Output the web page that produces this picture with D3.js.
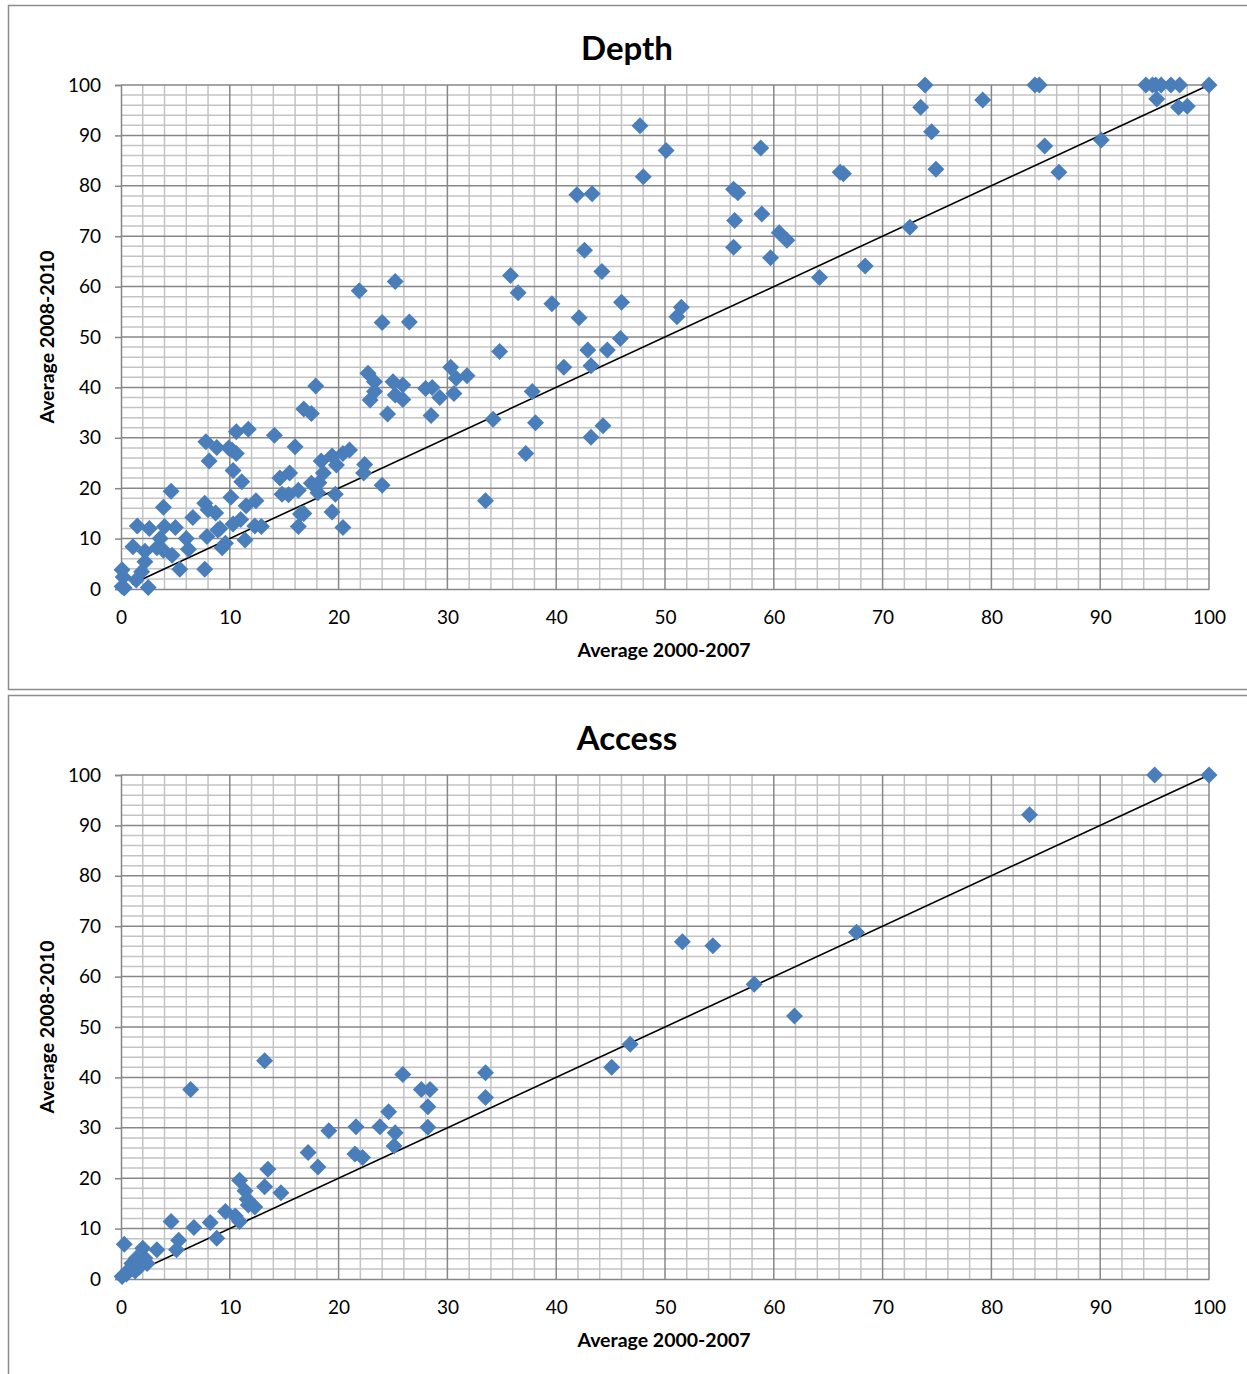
<!DOCTYPE html>
<html>
<head>
<meta charset="utf-8">
<script src="https://cdn.jsdelivr.net/npm/d3@7"></script>
<style>
  body { margin: 0; background: #fff; }
  svg { display: block; }
  text { font-family: Lato, "Open Sans", sans-serif; fill: #000; }
</style>
</head>
<body>
<svg id="chart" width="1247" height="1374"></svg>
<script>
// values
var axisTicks = [0, 10, 20, 30, 40, 50, 60, 70, 80, 90, 100];
var xTitle = "Average 2000-2007";
var yTitle = "Average 2008-2010";

var depthX = [
  73.9, 84.0, 84.4, 94.2, 94.8, 95.1, 95.6, 96.5, 97.3, 100,
  73.5, 74.5, 79.2, 95.2, 97.2, 98.0, 84.9, 86.2, 74.9, 72.5, 68.4, 90.1, 66.1, 66.4,
  47.7, 50.1, 48.0, 41.9, 43.3, 56.4, 58.9, 60.5, 61.2, 56.3, 59.7, 64.2, 56.3, 56.7, 58.8,
  35.8, 36.5, 39.6, 42.6, 44.2, 42.1, 46.0, 51.5, 51.1,
  34.8, 42.9, 44.7, 45.9, 40.7, 43.2, 37.8, 38.1, 44.3, 43.2, 37.2, 33.5, 34.2,
  21.9, 25.2, 24.0, 26.5,
  30.3, 31.8, 30.8, 30.6, 25.0, 25.9, 23.3, 22.7, 23.3, 22.9, 25.2, 25.9, 28.0, 28.6, 29.3, 24.5, 28.5, 24.0,
  17.9, 16.8, 17.5,
  7.8, 8.8, 9.9, 10.6, 11.7, 10.6, 14.1, 16.0, 8.1, 10.3, 11.1, 4.6, 3.9, 10.1, 7.7, 8.0, 8.7, 6.6, 11.5, 12.4,
  1.5, 2.6, 4.0, 5.0, 3.6, 6.0, 1.1, 2.2, 3.3, 3.9, 4.7, 2.2, 6.2, 5.4, 7.7, 7.9, 9.1, 9.6, 9.3, 8.9, 10.3, 11.0, 11.4, 12.3, 12.9,
  0.1, 0.2, 0.1, 0.3, 1.4, 2.5, 1.9,
  14.6, 15.5, 14.8, 15.4, 16.3, 17.5, 18.2, 18.6, 18.4, 19.4, 20.4, 21.0, 19.8, 18.1, 19.7, 19.4, 20.4, 16.5, 16.8, 16.3, 22.4, 22.3, 10.2
];
var depthY = [
  100, 100, 100, 100, 100, 100, 100, 100, 100, 100,
  95.6, 90.7, 97.0, 97.2, 95.6, 95.8, 87.9, 82.7, 83.3, 71.8, 64.1, 89.1, 82.7, 82.4,
  91.9, 87.0, 81.8, 78.2, 78.4, 73.1, 74.4, 70.7, 69.2, 67.8, 65.7, 61.8, 79.3, 78.6, 87.5,
  62.2, 58.8, 56.6, 67.2, 63.0, 53.8, 56.9, 55.9, 54.0,
  47.1, 47.4, 47.4, 49.7, 44.0, 44.3, 39.2, 33.0, 32.4, 30.1, 26.9, 17.5, 33.7,
  59.2, 61.0, 52.9, 53.0,
  44.0, 42.3, 41.8, 38.8, 41.1, 40.5, 41.1, 42.8, 39.2, 37.5, 38.5, 37.6, 39.8, 40.0, 38.0, 34.7, 34.4, 20.6,
  40.3, 35.7, 34.8,
  29.2, 28.1, 28.0, 31.2, 31.7, 26.9, 30.5, 28.2, 25.4, 23.5, 21.3, 19.4, 16.2, 18.2, 17.0, 15.7, 15.1, 14.2, 16.5, 17.5,
  12.5, 12.0, 12.4, 12.2, 10.0, 10.0, 8.4, 7.5, 8.2, 7.7, 6.7, 5.4, 7.9, 3.9, 3.9, 10.4, 12.0, 9.1, 8.2, 11.7, 12.9, 13.8, 9.7, 12.5, 12.4,
  3.8, 2.4, 0.5, 0.2, 1.8, 0.3, 3.4,
  22.0, 23.0, 18.8, 18.7, 19.6, 21.0, 21.1, 23.0, 25.4, 26.4, 26.9, 27.6, 24.6, 19.1, 18.8, 15.3, 12.2, 14.9, 15.0, 12.4, 24.7, 23.0, 27.6
];

var accessX = [
  100, 95.0, 83.5, 67.6, 51.6, 54.4, 58.2, 61.9, 46.8, 45.1,
  13.2, 6.4, 25.9, 27.6, 28.4, 28.2, 28.2, 33.5, 33.5, 24.6, 23.8, 25.2, 25.1, 21.6, 19.1,
  17.2, 18.1, 21.5, 22.2, 13.5, 13.2, 14.7, 10.9, 11.4, 11.6, 11.7, 12.3, 9.6, 10.5, 10.9,
  8.2, 8.8, 6.7, 4.6, 5.3, 5.1, 3.3, 0.3, 2.0, 2.2, 1.4, 1.0, 2.4, 1.7, 0.7, 1.3, 0.1, 0.5, 1.1
];
var accessY = [
  100, 100, 92.1, 68.8, 66.9, 66.1, 58.5, 52.2, 46.6, 42.0,
  43.3, 37.6, 40.6, 37.6, 37.6, 34.2, 30.1, 40.9, 36.0, 33.2, 30.2, 29.0, 26.4, 30.2, 29.4,
  25.1, 22.2, 24.8, 24.1, 21.8, 18.3, 17.1, 19.6, 17.5, 15.8, 14.7, 14.3, 13.4, 12.5, 11.4,
  11.2, 8.1, 10.2, 11.4, 7.7, 5.8, 5.8, 6.9, 6.1, 4.1, 4.1, 3.1, 3.1, 2.4, 1.8, 1.6, 0.5, 1.0, 2.4
];

// reference line y = x
var diagX = [1, 100];
var diagY = [1, 100];

var svg = d3.select("#chart");

function scatterPanel(g, title, xs, ys, top) {
  var left = 121, right = 1209,
      plotTop = top + 80, plotBottom = top + 584;

  var x = d3.scaleLinear().domain([0, 100]).range([left, right]);
  var y = d3.scaleLinear().domain([0, 100]).range([plotBottom, plotTop]);

  // panel frame
  g.append("rect")
    .attr("x", 8.5).attr("y", top + 0.5)
    .attr("width", 1260).attr("height", 684)
    .attr("fill", "#fff")
    .attr("stroke", "#8c8c8c")
    .attr("stroke-width", 1.5);

  g.append("text")
    .attr("x", 627).attr("y", top + 55)
    .attr("text-anchor", "middle")
    .attr("font-size", 33)
    .attr("font-weight", "bold")
    .text(title);

  // minor gridlines every 2
  var minor = d3.range(2, 100, 2).filter(function (d) { return d % 10 !== 0; });
  var grid = g.append("g");
  grid.selectAll(".vminor").data(minor).enter().append("line")
    .attr("x1", x).attr("x2", x)
    .attr("y1", plotTop).attr("y2", plotBottom)
    .attr("stroke", "#c3c3c3").attr("stroke-width", 1.5);
  grid.selectAll(".hminor").data(minor).enter().append("line")
    .attr("y1", y).attr("y2", y)
    .attr("x1", left).attr("x2", right)
    .attr("stroke", "#c3c3c3").attr("stroke-width", 1.5);

  // major gridlines
  grid.selectAll(".vmajor").data(axisTicks.slice(1)).enter().append("line")
    .attr("x1", x).attr("x2", x)
    .attr("y1", plotTop).attr("y2", plotBottom)
    .attr("stroke", "#878787").attr("stroke-width", 1.5);
  grid.selectAll(".hmajor").data(axisTicks.slice(1)).enter().append("line")
    .attr("y1", y).attr("y2", y)
    .attr("x1", left).attr("x2", right)
    .attr("stroke", "#878787").attr("stroke-width", 1.5);

  // axes
  var yAxis = g.append("g")
    .attr("transform", "translate(" + left + ",0)")
    .call(d3.axisLeft(y).tickValues(axisTicks).tickSize(6).tickPadding(14));
  var xAxis = g.append("g")
    .attr("transform", "translate(0," + plotBottom + ")")
    .call(d3.axisBottom(x).tickValues(axisTicks).tickSize(0).tickPadding(22));
  [xAxis, yAxis].forEach(function (a) {
    a.select(".domain").attr("stroke", "#878787").attr("stroke-width", 1.5);
    a.selectAll(".tick line").attr("stroke", "#878787").attr("stroke-width", 1.5);
    a.selectAll(".tick text")
      .attr("font-family", "Lato, 'Open Sans', sans-serif")
      .attr("font-size", 19).attr("fill", "#000");
  });

  g.append("text")
    .attr("x", 664).attr("y", top + 652)
    .attr("text-anchor", "middle")
    .attr("font-size", 19.5).attr("font-weight", "bold")
    .text(xTitle);

  g.append("text")
    .attr("transform", "translate(54," + (top + 332) + ") rotate(-90)")
    .attr("text-anchor", "middle")
    .attr("font-size", 19.5).attr("font-weight", "bold")
    .text(yTitle);

  // diagonal
  g.append("line")
    .attr("x1", x(diagX[0])).attr("y1", y(diagY[0]))
    .attr("x2", x(diagX[1])).attr("y2", y(diagY[1]))
    .attr("stroke", "#000").attr("stroke-width", 1.6);

  // diamond markers
  var diamond = "M0,-8.5L8.5,0L0,8.5L-8.5,0Z";
  g.append("g").selectAll("path")
    .data(d3.range(xs.length))
    .enter().append("path")
    .attr("d", diamond)
    .attr("transform", function (i) { return "translate(" + x(xs[i]) + "," + y(ys[i]) + ")"; })
    .attr("fill", "#4a7ebb");
}

scatterPanel(svg.append("g"), "Depth", depthX, depthY, 5);
scatterPanel(svg.append("g"), "Access", accessX, accessY, 695);
</script>
</body>
</html>
